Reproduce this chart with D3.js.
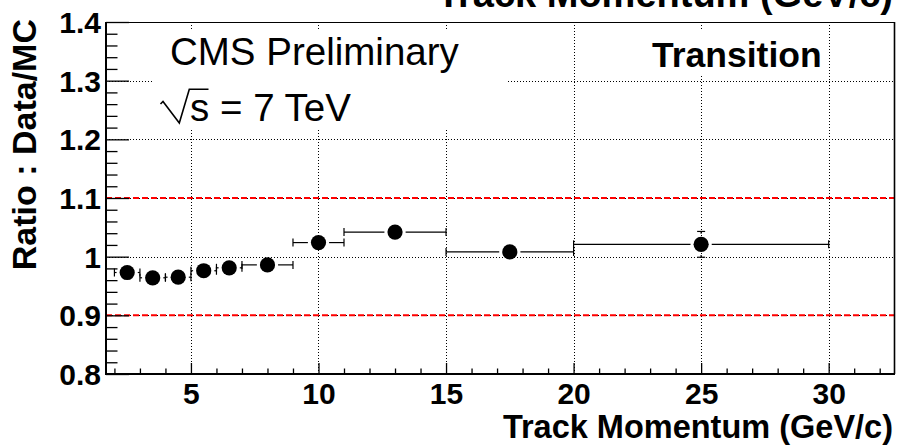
<!DOCTYPE html>
<html>
<head>
<meta charset="utf-8">
<script src="https://cdn.jsdelivr.net/npm/d3@7/dist/d3.min.js"></script>
<style>
  html, body { margin: 0; padding: 0; background: #fff; }
  svg { display: block; font-family: "Liberation Sans", Arial, Helvetica, sans-serif; }
</style>
</head>
<body>
<svg id="chart" width="900" height="447"></svg>
<script>
// Data/MC ratio per track-momentum bin (transition region)
const momentum      = [2.5, 3.5, 4.5, 5.5, 6.5, 8, 10, 13, 17.5, 25];
const binHalfWidth  = [0.5, 0.5, 0.5, 0.5, 0.5, 1, 1, 2, 2.5, 5];
const ratio         = [0.973, 0.964, 0.965, 0.976, 0.981, 0.986, 1.024, 1.042, 1.008, 1.021];
const ratioError    = [0.004, 0.004, 0.004, 0.004, 0.004, 0.004, 0.005, 0.005, 0.006, 0.022];

const xTicks        = [5, 10, 15, 20, 25, 30];
const xTickLabels   = ["5", "10", "15", "20", "25", "30"];
const yTicks        = [0.8, 0.9, 1.0, 1.1, 1.2, 1.3, 1.4];
const yTickLabels   = ["0.8", "0.9", "1", "1.1", "1.2", "1.3", "1.4"];
const referenceLines = [0.9, 1.1];

const xDomain = [1.67, 32.6];
const yDomain = [0.8, 1.4];

const W = 900, H = 447;
const margin = { left: 106, right: 5, top: 22, bottom: 73 };
const x0 = margin.left, x1 = W - margin.right;
const y0 = margin.top,  y1 = H - margin.bottom;

const svg = d3.select("#chart");
const x = d3.scaleLinear().domain(xDomain).range([x0, x1]);
const y = d3.scaleLinear().domain(yDomain).range([y1, y0]);

// dotted grid
const grid = svg.append("g").attr("stroke", "#000").attr("stroke-width", 1)
  .attr("stroke-dasharray", "1,2").attr("fill", "none").attr("shape-rendering", "crispEdges");
grid.selectAll("line.gx").data(xTicks).join("line").attr("class", "gx")
  .attr("x1", d => Math.round(x(d)) + 0.5).attr("x2", d => Math.round(x(d)) + 0.5)
  .attr("y1", y0).attr("y2", y1);
grid.selectAll("line.gy").data(yTicks.filter(v => v > yDomain[0] && v < yDomain[1]))
  .join("line").attr("class", "gy")
  .attr("x1", x0).attr("x2", x1)
  .attr("y1", d => Math.round(y(d)) + 0.5).attr("y2", d => Math.round(y(d)) + 0.5);

// red dashed reference lines
svg.append("g").selectAll("line").data(referenceLines).join("line")
  .attr("x1", x0).attr("x2", x1)
  .attr("y1", d => y(d)).attr("y2", d => y(d))
  .attr("stroke", "#ff0000").attr("stroke-width", 2).attr("stroke-dasharray", "6,3");

// text panels (white fill hides the grid behind them)
svg.append("rect").attr("x", 153).attr("y", 31).attr("width", 353).attr("height", 99).attr("fill", "#fff");
svg.append("rect").attr("x", 588).attr("y", 29).attr("width", 236).attr("height", 47).attr("fill", "#fff");

svg.append("text").attr("x", 170).attr("y", 65)
  .attr("font-size", 38.5).text("CMS Preliminary");

const sx = 190, sb = 121;
svg.append("path")
  .attr("d", d3.line()([[sx - 29.5, sb - 17], [sx - 27, sb - 19.5], [sx - 10.7, sb + 2], [sx - 0.7, sb - 31.7], [sx + 18.5, sb - 31.7]]))
  .attr("fill", "none").attr("stroke", "#000").attr("stroke-width", 1.6);
svg.append("text").attr("x", sx).attr("y", sb)
  .attr("font-size", 38.5).text("s = 7 TeV");

svg.append("text").attr("x", 652).attr("y", 66.5)
  .attr("font-size", 35.5).attr("font-weight", "bold").text("Transition");

// axes with inward ticks
const yAxis = d3.axisLeft(y).tickValues(yTicks).tickFormat((d, i) => yTickLabels[i])
  .tickSizeInner(-23).tickSizeOuter(0).tickPadding(5);
const yMinor = d3.axisLeft(y).tickValues(d3.range(0.82, 1.4, 0.02).filter(v => Math.abs(v * 10 - Math.round(v * 10)) > 1e-6))
  .tickFormat("").tickSizeInner(-11.5).tickSizeOuter(0);
const xAxis = d3.axisBottom(x).tickValues(xTicks).tickFormat((d, i) => xTickLabels[i])
  .tickSizeInner(-11).tickSizeOuter(0).tickPadding(9);
const xMinor = d3.axisBottom(x).tickValues(d3.range(2, 33, 1).filter(v => v % 5 !== 0))
  .tickFormat("").tickSizeInner(-5.5).tickSizeOuter(0);

function styleAxis(g) {
  g.select(".domain").remove();
  g.selectAll(".tick line").attr("stroke", "#000").attr("stroke-width", 1.3);
  g.selectAll("text").attr("fill", "#000").attr("font-family", "Liberation Sans, Arial, sans-serif")
    .attr("font-weight", "bold").attr("font-size", 30);
}
svg.append("g").attr("transform", `translate(${x0},0)`).call(yMinor).call(styleAxis);
svg.append("g").attr("transform", `translate(${x0},0)`).call(yAxis).call(styleAxis)
  .selectAll("text").attr("dy", "0.35em");
svg.append("g").attr("transform", `translate(0,${y1})`).call(xMinor).call(styleAxis);
svg.append("g").attr("transform", `translate(0,${y1})`).call(xAxis).call(styleAxis)
  .selectAll("text").attr("dy", "0.71em");

// frame
svg.append("line").attr("x1", x0).attr("x2", x1).attr("y1", y0 + 0.5).attr("y2", y0 + 0.5)
  .attr("stroke", "#000").attr("stroke-width", 1);
svg.append("line").attr("x1", x1 - 0.5).attr("x2", x1 - 0.5).attr("y1", y0).attr("y2", y1)
  .attr("stroke", "#000").attr("stroke-width", 1.6);
svg.append("line").attr("x1", x0).attr("x2", x0).attr("y1", y0).attr("y2", y1 + 1)
  .attr("stroke", "#000").attr("stroke-width", 2);
svg.append("line").attr("x1", x0 - 1).attr("x2", x1).attr("y1", y1).attr("y2", y1)
  .attr("stroke", "#000").attr("stroke-width", 2);

// error bars and markers
const R = 7.6, GAP = 3, CAP = 4;
const pts = momentum.map((m, i) => ({ m, hw: binHalfWidth[i], v: ratio[i], e: ratioError[i] }));
const eb = svg.append("g").attr("stroke", "#000").attr("stroke-width", 1.2).attr("fill", "none");
pts.forEach(p => {
  const cx = x(p.m), cy = y(p.v);
  const xl = x(p.m - p.hw), xr = x(p.m + p.hw);
  const yt = y(p.v + p.e), yb = y(p.v - p.e);
  if (cx - xl > R + GAP) {
    eb.append("line").attr("x1", xl).attr("x2", cx - R - GAP).attr("y1", cy).attr("y2", cy);
    eb.append("line").attr("x1", xr).attr("x2", cx + R + GAP).attr("y1", cy).attr("y2", cy);
  }
  eb.append("line").attr("x1", xl).attr("x2", xl).attr("y1", cy - CAP).attr("y2", cy + CAP);
  eb.append("line").attr("x1", xr).attr("x2", xr).attr("y1", cy - CAP).attr("y2", cy + CAP);
  if (cy - yt > R + GAP) {
    eb.append("line").attr("x1", cx).attr("x2", cx).attr("y1", yt).attr("y2", cy - R - GAP);
    eb.append("line").attr("x1", cx).attr("x2", cx).attr("y1", yb).attr("y2", cy + R + GAP);
    eb.append("line").attr("x1", cx - CAP).attr("x2", cx + CAP).attr("y1", yt).attr("y2", yt);
    eb.append("line").attr("x1", cx - CAP).attr("x2", cx + CAP).attr("y1", yb).attr("y2", yb);
  }
});
svg.append("g").selectAll("circle").data(pts).join("circle")
  .attr("cx", d => x(d.m)).attr("cy", d => y(d.v)).attr("r", R).attr("fill", "#000");

// axis titles
svg.append("text").attr("x", 893).attr("y", 438).attr("text-anchor", "end")
  .attr("font-size", 32.5).attr("font-weight", "bold").text("Track Momentum (GeV/c)");
svg.append("text").attr("transform", "translate(36,19) rotate(-90)").attr("text-anchor", "end")
  .attr("font-size", 34).attr("font-weight", "bold").text("Ratio : Data/MC");
// histogram title, mostly above the canvas edge
svg.append("text").attr("x", 893).attr("y", 7).attr("text-anchor", "end")
  .attr("font-size", 38).attr("font-weight", "bold").text("Track Momentum (GeV/c)");
</script>
</body>
</html>
